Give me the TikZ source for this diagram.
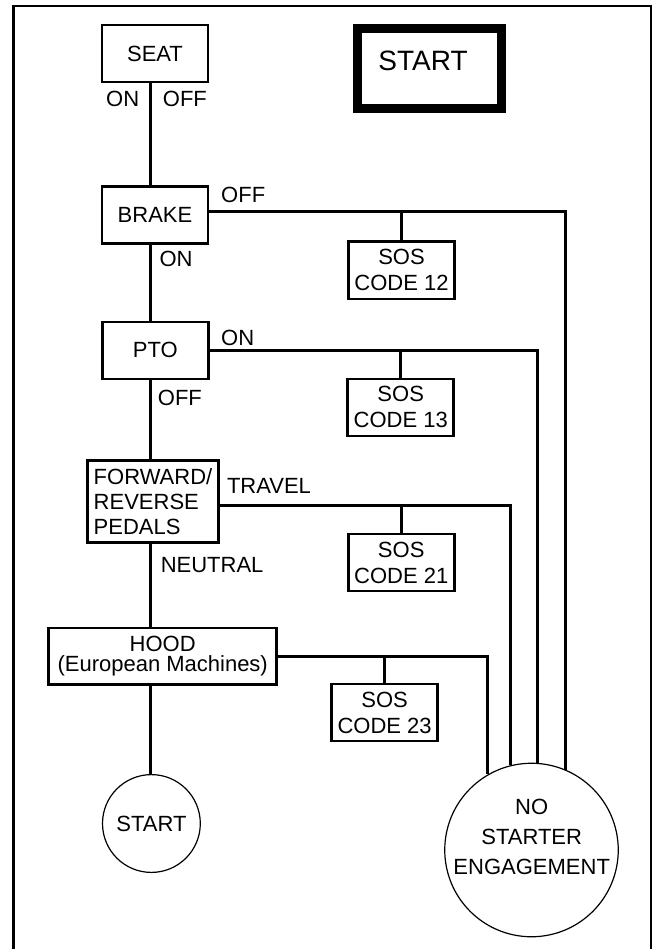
\documentclass[tikz,border=0pt]{standalone}
\usepackage{fontspec}
\setmainfont{Liberation Sans}

\begin{document}
\begin{tikzpicture}[x=1pt, y=-1pt,
      every node/.style={font=\fontsize{22}{25}\selectfont},
      blk/.style={draw, line width=2.6pt, minimum width=106pt, minimum height=57pt,
                  align=center, inner sep=2pt},
      sos/.style={blk},
      lbl/.style={inner sep=0pt, anchor=west},
      circ/.style={draw, circle, line width=1.2pt, inner sep=0pt, align=center},
      conn/.style={line width=3pt},
      frame/.style={line width=2.4pt}]
    \useasboundingbox (0,0) rectangle (658,949);
    \draw[frame] (13.5,949) -- (13.5,6) -- (651,6) -- (651,949);

    \node[blk] (seat) at (155,53.5) {SEAT};
    \node[draw, line width=9pt, minimum width=144pt, minimum height=80pt] (startbox) at (429.2,68.5) {};
    \node[font=\fontsize{28}{32}\selectfont, inner sep=0pt] (starttxt) at (423,61) {START};
    \node[blk, minimum height=57.5pt] (brake) at (155,215) {BRAKE};
    \node[blk] (pto) at (155.3,350.3) {PTO};
    \node[blk, align=left, minimum width=131.5pt, minimum height=82.5pt] (fwd) at (153,501.5) {FORWARD/\\REVERSE\\PEDALS};
    \node[blk, minimum width=228pt, minimum height=56.7pt] (hood) at (162.7,656.3) {HOOD\\[-5pt](European Machines)};

    \node[sos] (sos12) at (401.5,270.3) {SOS\\[1pt]CODE 12};
    \node[sos] (sos13) at (400.7,407.3) {SOS\\[1pt]CODE 13};
    \node[sos] (sos21) at (401.2,562.5) {SOS\\[1pt]CODE 21};
    \node[sos] (sos23) at (384.6,712.5) {SOS\\[1pt]CODE 23};

    \node[circ, minimum size=97.8pt] (startc) at (151.4,823.5) {START};
    \node[circ, minimum size=173.5pt] (nse) at (531.5,850) {};
    \node[align=center, inner sep=0pt] (nsetxt) at (531.7,836.7) {NO\\[5pt]STARTER\\[5pt]ENGAGEMENT};

    \node[lbl] (seaton) at (106,98.8) {ON};
    \node[lbl] (seatoff) at (162.7,98.8) {OFF};
    \node[lbl] (brakeoff) at (221,195) {OFF};
    \node[lbl] (brakeon) at (159.3,258.7) {ON};
    \node[lbl] (ptoon) at (221,337.5) {ON};
    \node[lbl] (ptooff) at (157.7,398.3) {OFF};
    \node[lbl] (travel) at (226.8,486) {TRAVEL};
    \node[lbl] (neutral) at (160.6,565) {NEUTRAL};

    \coordinate (spine) at (150.3,0);
    \draw[conn] (seat.south -| spine) -- (brake.north -| spine);
    \draw[conn] (brake.south -| spine) -- (pto.north -| spine);
    \draw[conn] (pto.south -| spine) -- (fwd.north -| spine);
    \draw[conn] (fwd.south -| spine) -- (hood.north -| spine);
    \draw[conn] (hood.south -| spine) -- (startc.north -| spine);

    \coordinate (brk) at ([yshift=3pt]brake.east);
    \coordinate (fwdr) at ([yshift=-3.8pt]fwd.east);
    \draw[conn] (brk) -| (nse.67);
    \draw[conn] (pto.east) -| (nse.86);
    \draw[conn] (fwdr) -| (nse.104);
    \draw[conn] (hood.east) -| (nse.120);
    \draw[conn] (sos12.north) -- (sos12.north |- brk);
    \draw[conn] (sos13.north) -- (sos13.north |- pto.east);
    \draw[conn] (sos21.north) -- (sos21.north |- fwdr);
    \draw[conn] (sos23.north) -- (sos23.north |- hood.east);
  \end{tikzpicture}
\end{document}
